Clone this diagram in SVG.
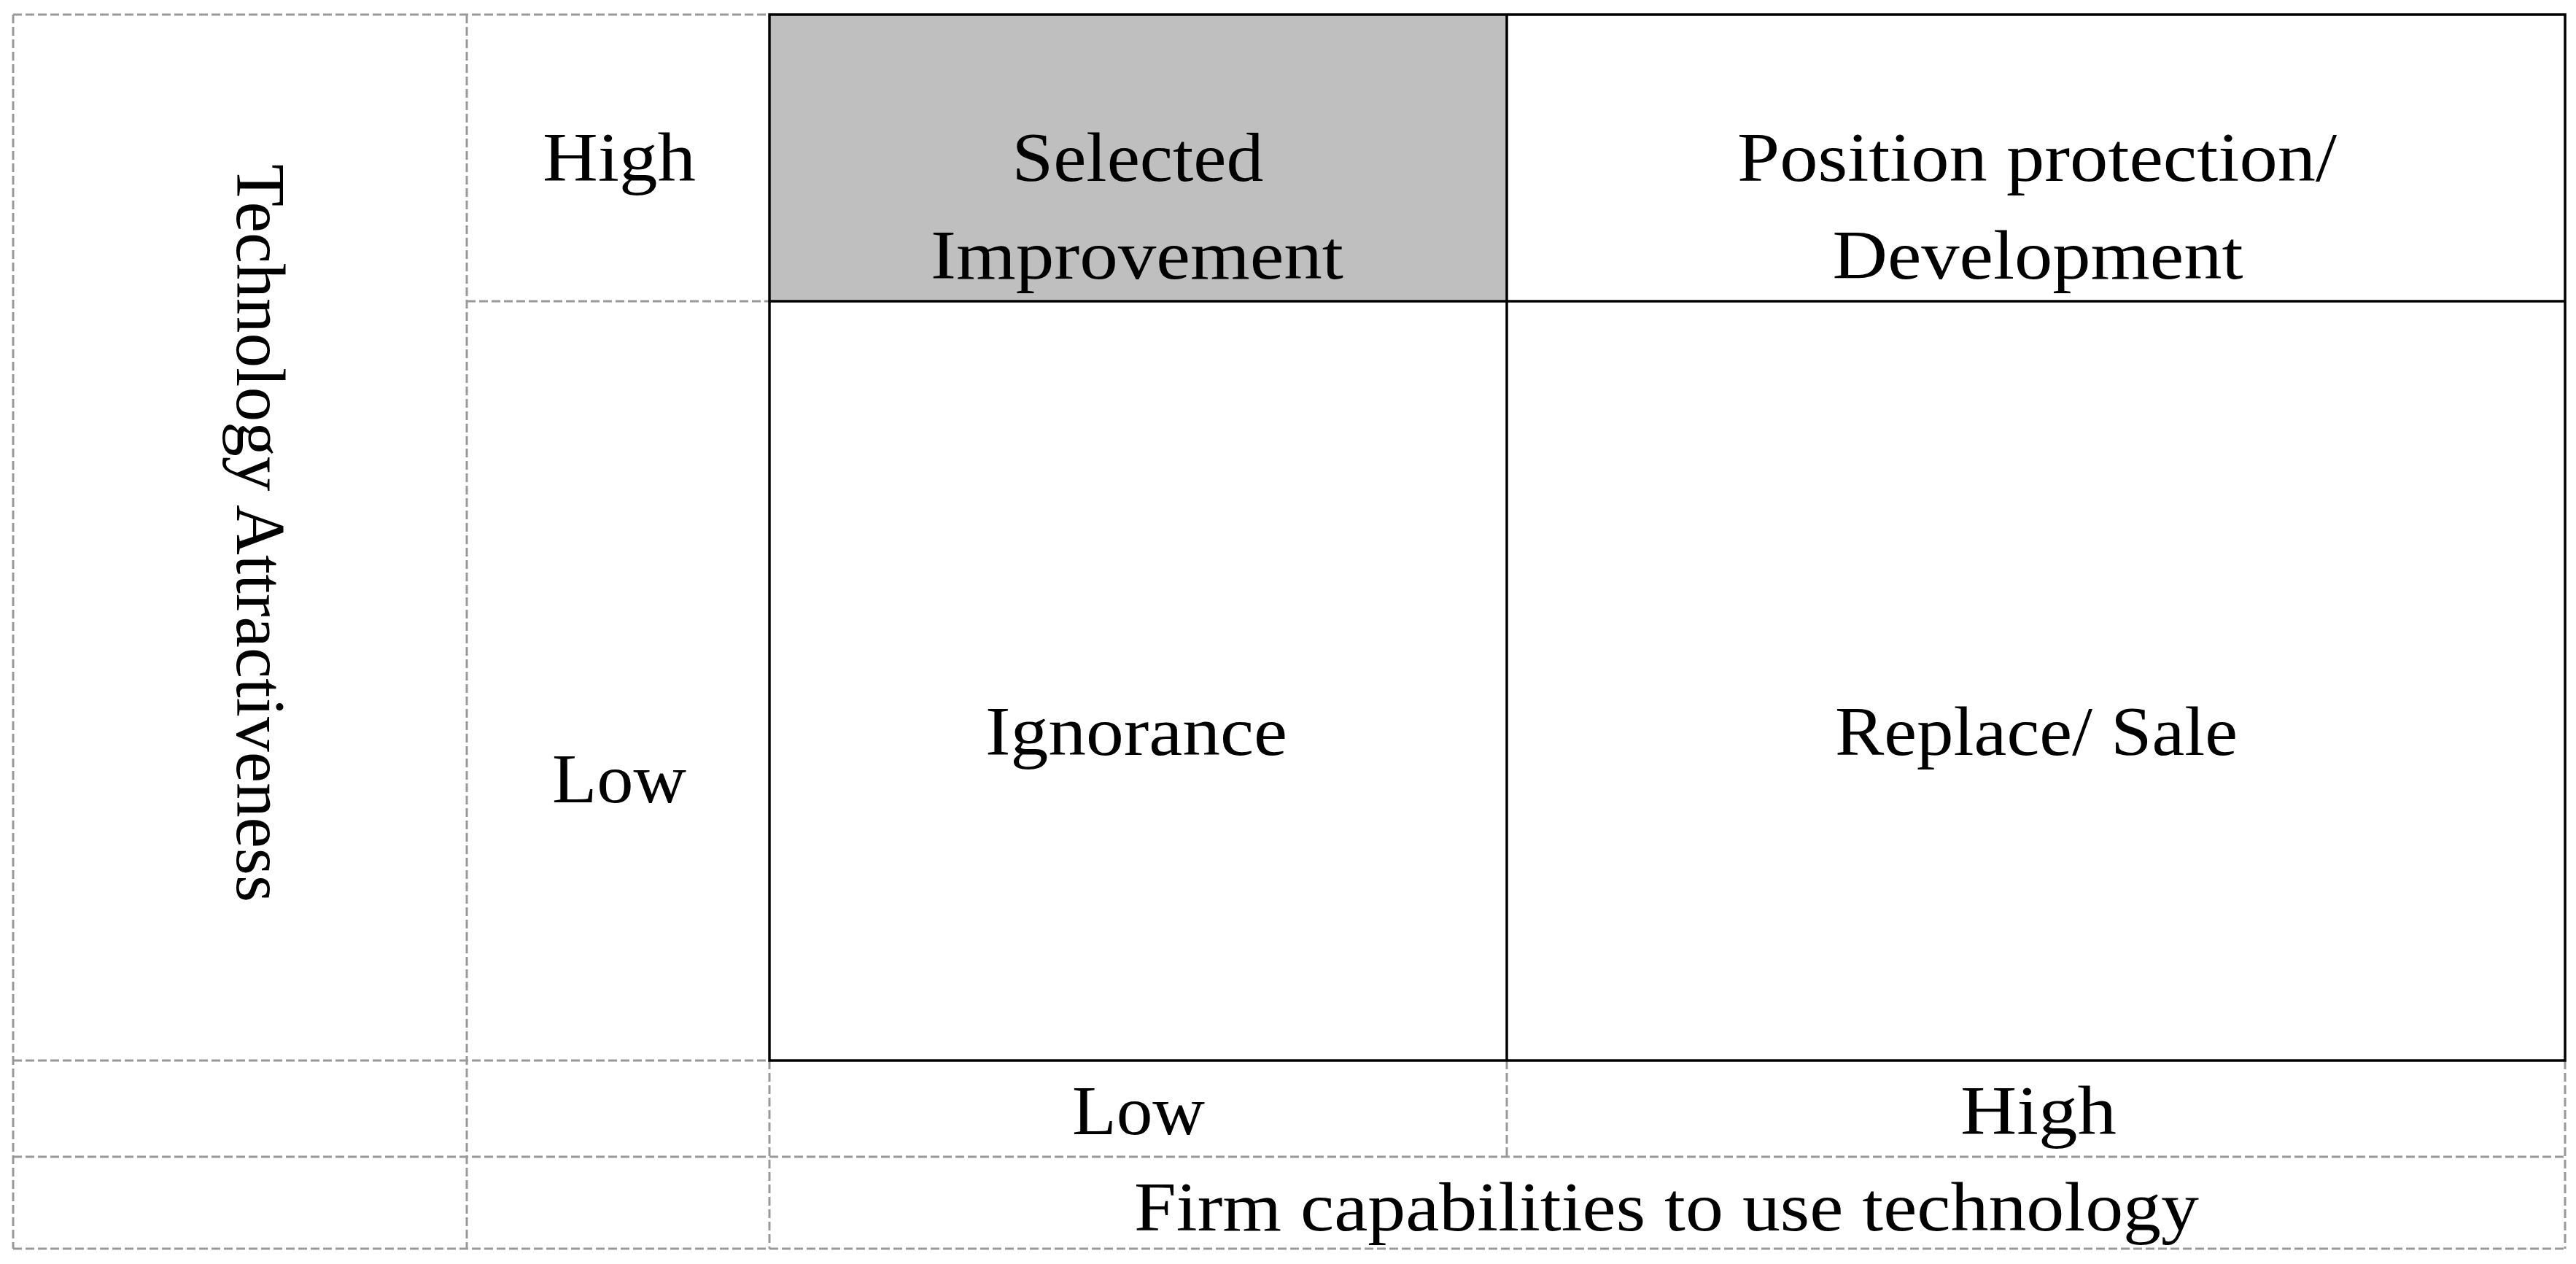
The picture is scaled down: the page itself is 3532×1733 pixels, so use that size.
<svg xmlns="http://www.w3.org/2000/svg" width="3532" height="1733" viewBox="0 0 3532 1733">
<style>
.dash{stroke:#999;stroke-width:3;stroke-dasharray:12 5;fill:none}
.solid{stroke:#000;stroke-width:3.5;fill:none}
.t{font-family:"Liberation Serif","Times New Roman",serif;font-size:96px;fill:#000;text-anchor:middle}
</style>
<rect width="3532" height="1733" fill="#fff"/>
<g id="cell-selected-improvement">
<rect x="1055" y="20" width="1011" height="393" fill="#bfbfbf"/>
<text class="t" x="1560" y="248" textLength="345" lengthAdjust="spacingAndGlyphs">Selected</text>
<text class="t" x="1559" y="382" textLength="566" lengthAdjust="spacingAndGlyphs">Improvement</text>
</g>
<g id="cell-position-protection">
<text class="t" x="2793" y="248" textLength="822" lengthAdjust="spacingAndGlyphs">Position protection/</text>
<text class="t" x="2794" y="382" textLength="563" lengthAdjust="spacingAndGlyphs">Development</text>
</g>
<g id="cell-ignorance">
<text class="t" x="1558" y="1035" textLength="414" lengthAdjust="spacingAndGlyphs">Ignorance</text>
</g>
<g id="cell-replace-sale">
<text class="t" x="2792" y="1035" textLength="552" lengthAdjust="spacingAndGlyphs">Replace/ Sale</text>
</g>
<g id="label-y-axis">
<text class="t" transform="translate(325,731) rotate(90)" x="0" y="0" textLength="1012" lengthAdjust="spacingAndGlyphs">Technology Attractiveness</text>
</g>
<g id="label-y-high">
<text class="t" x="849" y="248" textLength="210" lengthAdjust="spacingAndGlyphs">High</text>
</g>
<g id="label-y-low">
<text class="t" x="849" y="1100" textLength="184" lengthAdjust="spacingAndGlyphs">Low</text>
</g>
<g id="label-x-low">
<text class="t" x="1561" y="1555" textLength="182" lengthAdjust="spacingAndGlyphs">Low</text>
</g>
<g id="label-x-high">
<text class="t" x="2795" y="1555" textLength="214" lengthAdjust="spacingAndGlyphs">High</text>
</g>
<g id="label-x-axis">
<text class="t" x="2285" y="1687" textLength="1460" lengthAdjust="spacingAndGlyphs">Firm capabilities to use technology</text>
</g>
<g id="grid">
<line class="dash" x1="18" y1="20" x2="1055" y2="20"/>
<line class="dash" x1="18" y1="20" x2="18" y2="1712"/>
<line class="dash" x1="640" y1="20" x2="640" y2="1712"/>
<line class="dash" x1="640" y1="413" x2="1055" y2="413"/>
<line class="dash" x1="18" y1="1454" x2="1055" y2="1454"/>
<line class="dash" x1="18" y1="1586" x2="3517" y2="1586"/>
<line class="dash" x1="18" y1="1712" x2="3517" y2="1712"/>
<line class="dash" x1="1055" y1="1454" x2="1055" y2="1712"/>
<line class="dash" x1="2066" y1="1454" x2="2066" y2="1586"/>
<line class="dash" x1="3517" y1="1454" x2="3517" y2="1712"/>
<rect class="solid" x="1055" y="20" width="2462" height="1434"/>
<line class="solid" x1="2066" y1="20" x2="2066" y2="1454"/>
<line class="solid" x1="1055" y1="413" x2="3517" y2="413"/>
</g>
</svg>
